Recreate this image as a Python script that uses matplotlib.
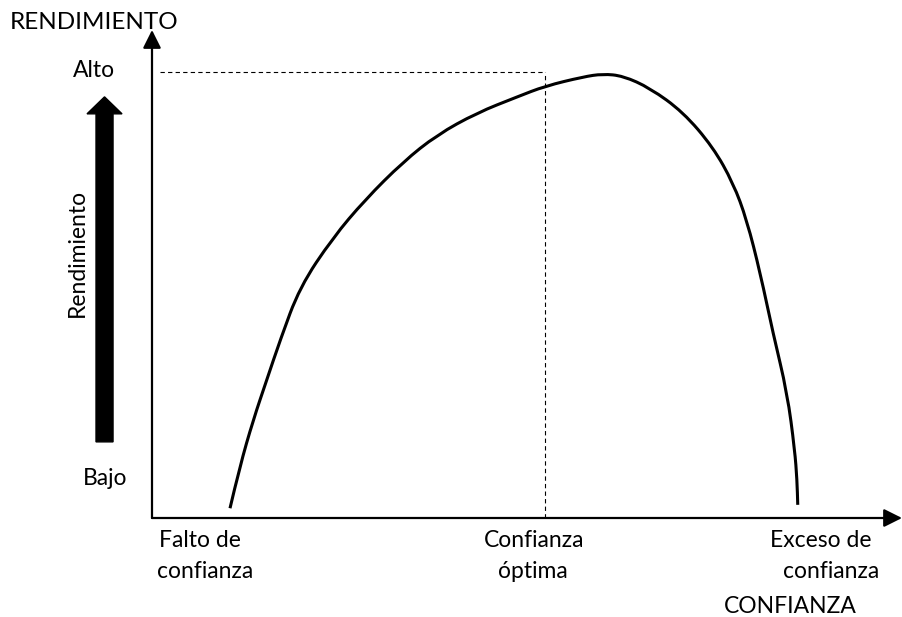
import matplotlib
matplotlib.use('Agg')
import matplotlib.pyplot as plt
from matplotlib.patches import FancyArrow, PathPatch
from matplotlib.path import Path

plt.rcParams['font.family'] = ['Lato', 'DejaVu Sans']

# ─── Data (confianza vs rendimiento, 0-100 units) ─────────────────────────────
confianza = [10.4, 11.7, 13.5, 15.3, 17.1, 19.7, 24.1, 28.4, 33.5, 38.0, 43.3,
             48.7, 52.4, 57.5, 60.1, 62.8, 66.4, 70.8, 74.8, 77.5, 79.3, 81.1,
             82.8, 84.7, 85.7, 86.0, 86.1]
rendimiento = [2.0, 10.5, 20.1, 28.3, 36.5, 47.3, 57.4, 65.2, 73.0, 78.5, 83.0,
               86.3, 88.5, 90.4, 91.0, 90.6, 88.1, 83.2, 76.0, 68.6, 61.1, 50.2,
               37.9, 25.6, 13.9, 7.8, 2.7]

optimo_x = 52.4
optimo_y = 91.4

x_labels = [('Falto de', 'confianza'), ('Confianza', 'óptima'), ('Exceso de', 'confianza')]
x_label_pos = [(6.4, 7.1), (50.9, 50.8), (89.1, 90.5)]

FS = 16.5

fig = plt.figure(figsize=(9.02, 6.17), dpi=100)
ax = fig.add_axes([152 / 902, (617 - 518) / 617, (902 - 152) / 902, (518 - 30) / 617])
ax.set_xlim(0, 100)
ax.set_ylim(0, 100)
ax.axis('off')

# axes with arrow heads
arrow_kw = dict(arrowstyle='-|>,head_length=1.1,head_width=0.55', lw=1.6,
                color='black', shrinkA=0, shrinkB=0, mutation_scale=10)
ax.annotate('', xy=(0, 100), xytext=(0, 0), arrowprops=arrow_kw, annotation_clip=False)
ax.annotate('', xy=(100, 0), xytext=(0, 0), arrowprops=arrow_kw, annotation_clip=False)

# dashed guides at the optimum
ax.plot([1.1, optimo_x], [optimo_y, optimo_y], color='black', lw=0.8,
        linestyle=(0, (3.9, 2.9)))
ax.plot([optimo_x, optimo_x], [0, optimo_y], color='black', lw=0.8,
        linestyle=(0, (3.9, 2.9)))

# curve, drawn smooth through the read points (quadratic segments)
pts = list(zip(confianza, rendimiento))
verts = [pts[0]]
codes = [Path.MOVETO]
for i in range(1, len(pts) - 1):
    mid = ((pts[i][0] + pts[i + 1][0]) / 2, (pts[i][1] + pts[i + 1][1]) / 2)
    verts += [pts[i], mid]
    codes += [Path.CURVE3, Path.CURVE3]
verts.append(pts[-1])
codes.append(Path.LINETO)
ax.add_patch(PathPatch(Path(verts, codes), facecolor='none', edgecolor='black',
                       lw=2.2, capstyle='butt', joinstyle='round', clip_on=False))

# fat arrow on the left
ax.add_patch(FancyArrow(-6.33, 15.6, 0, 70.7, width=2.27, head_width=4.67,
                        head_length=3.48, length_includes_head=True,
                        color='black', clip_on=False))

# texts
ax.text(-18.9, 101.5, 'RENDIMIENTO', fontsize=17.5, ha='left', va='center', clip_on=False)
ax.text(-7.7, 90.4, 'Alto', fontsize=FS, ha='center', va='baseline')
ax.text(-6.3, 6.8, 'Bajo', fontsize=FS, ha='center', va='baseline')
ax.text(-10.0, 54.3, 'Rendimiento', fontsize=FS, rotation=90, ha='center', va='center')

for (l1, l2), (x1, x2) in zip(x_labels, x_label_pos):
    ax.text(x1, -6.0, l1, fontsize=FS, ha='center', va='baseline')
    ax.text(x2, -12.3, l2, fontsize=FS, ha='center', va='baseline')

ax.text(85.1, -19.5, 'CONFIANZA', fontsize=FS, ha='center', va='baseline')

plt.savefig('out.png', dpi=100)
plt.close()
